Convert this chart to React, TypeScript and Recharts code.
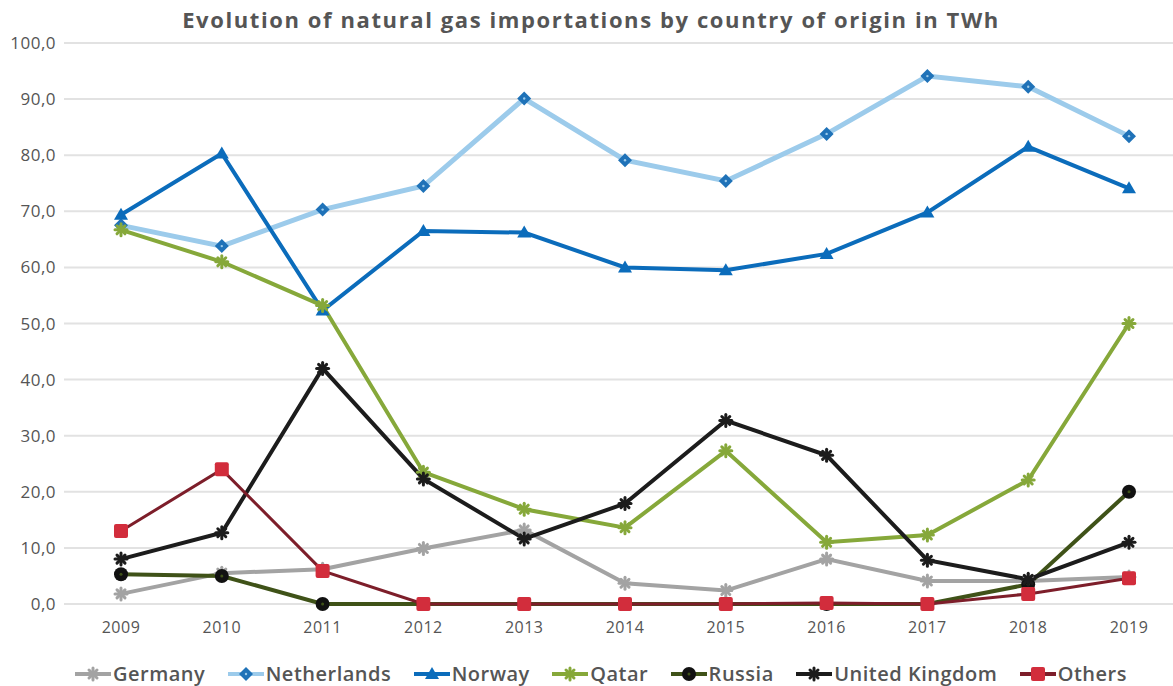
import React from 'react';
import { LineChart, Line, XAxis, YAxis, CartesianGrid } from 'recharts';

const years = ['2009', '2010', '2011', '2012', '2013', '2014', '2015', '2016', '2017', '2018', '2019'];
const germany = [1.8, 5.5, 6.2, 9.9, 13.2, 3.7, 2.4, 8.0, 4.1, 4.1, 4.8];
const netherlands = [67.5, 63.8, 70.3, 74.5, 90.1, 79.1, 75.4, 83.8, 94.1, 92.2, 83.4];
const norway = [69.4, 80.3, 52.3, 66.5, 66.2, 60.0, 59.5, 62.4, 69.8, 81.5, 74.1];
const qatar = [66.7, 61.0, 53.2, 23.5, 16.9, 13.6, 27.3, 11.0, 12.3, 22.1, 50.0];
const russia = [5.3, 5.0, 0, 0, 0, 0, 0, 0, 0, 3.5, 20.0];
const uk = [8.0, 12.7, 42.0, 22.3, 11.6, 17.9, 32.7, 26.5, 7.8, 4.4, 11.0];
const others = [13.0, 24.0, 5.9, 0, 0, 0, 0, 0.2, 0, 1.8, 4.6];
const yTicks = [0, 10, 20, 30, 40, 50, 60, 70, 80, 90, 100];

const data = years.map((y, i) => ({
  year: y,
  Germany: germany[i],
  Netherlands: netherlands[i],
  Norway: norway[i],
  Qatar: qatar[i],
  Russia: russia[i],
  UK: uk[i],
  Others: others[i],
}));

const FONT = '"Open Sans", "DejaVu Sans", sans-serif';

type Shape = 'diamond' | 'triangle' | 'star' | 'circle' | 'square';

function markerEl(shape: Shape, cx: number, cy: number, fill: string, key?: any) {
  switch (shape) {
    case 'diamond':
      return (
        <g key={key}>
          <path d={`M${cx},${cy - 7}L${cx + 7},${cy}L${cx},${cy + 7}L${cx - 7},${cy}Z`} fill={fill} />
          <circle cx={cx} cy={cy} r={1.2} fill="#9ccbeb" />
        </g>
      );
    case 'triangle':
      return <path key={key} d={`M${cx},${cy - 7}L${cx + 7},${cy + 5}L${cx - 7},${cy + 5}Z`} fill={fill} />;
    case 'star':
      return (
        <g key={key} stroke={fill} strokeWidth={3} strokeLinecap="round">
          <line x1={cx - 4} y1={cy - 4} x2={cx + 4} y2={cy + 4} />
          <line x1={cx - 4} y1={cy + 4} x2={cx + 4} y2={cy - 4} />
          <line x1={cx} y1={cy - 6} x2={cx} y2={cy + 6} />
          <line x1={cx - 6} y1={cy} x2={cx + 6} y2={cy} />
        </g>
      );
    case 'circle':
      return (
        <g key={key}>
          <circle cx={cx} cy={cy} r={7} fill={fill} />
          <circle cx={cx} cy={cy} r={1.5} fill="#3f5218" />
        </g>
      );
    case 'square':
      return <rect key={key} x={cx - 7} y={cy - 7} width={14} height={14} rx={2} fill={fill} />;
  }
}

const makeDot = (shape: Shape, fill: string) => (props: any) => {
  const { cx, cy, index } = props;
  if (cx == null || cy == null) return <g key={`e${index}`} />;
  return markerEl(shape, cx, cy, fill, `d${index}`);
};

const seriesList = [
  { key: 'Germany', label: 'Germany', line: '#a3a3a3', marker: '#a3a3a3', shape: 'star' as Shape, width: 4 },
  { key: 'Netherlands', label: 'Netherlands', line: '#9ccbeb', marker: '#1f72b8', shape: 'diamond' as Shape, width: 5 },
  { key: 'Norway', label: 'Norway', line: '#0b6cbb', marker: '#0b6cbb', shape: 'triangle' as Shape, width: 4 },
  { key: 'Qatar', label: 'Qatar', line: '#86a83a', marker: '#86a83a', shape: 'star' as Shape, width: 4 },
  { key: 'Russia', label: 'Russia', line: '#3f5218', marker: '#111111', shape: 'circle' as Shape, width: 4 },
  { key: 'UK', label: 'United Kingdom', line: '#1c1c1c', marker: '#1c1c1c', shape: 'star' as Shape, width: 4 },
  { key: 'Others', label: 'Others', line: '#7d1e2a', marker: '#d22d3c', shape: 'square' as Shape, width: 3 },
];

export default function App() {
  return (
    <div style={{ position: 'absolute', left: 0, top: 0, width: 1173, height: 686, background: '#fff', overflow: 'hidden' }}>
      <div style={{ position: 'absolute', left: 171, top: 4, width: 840, textAlign: 'center', fontFamily: FONT, fontWeight: 'bold', fontSize: 22, letterSpacing: 1.6, color: '#555', whiteSpace: 'nowrap' }}>
        Evolution of natural gas importations by country of origin in TWh
      </div>
      <LineChart width={1173} height={686} data={data} margin={{ top: 43, right: 0, bottom: 0, left: 0 }}>
        <CartesianGrid vertical={false} stroke="#e2e2e2" strokeWidth={2} />
        <XAxis
          dataKey="year"
          axisLine={false}
          tickLine={false}
          padding={{ left: 57, right: 44 }}
          tick={{ fontFamily: FONT, fontSize: 16, fill: '#555', letterSpacing: 0.5 }}
          tickMargin={12}
          height={82}
        />
        <YAxis
          domain={[0, 100]}
          ticks={yTicks}
          axisLine={false}
          tickLine={false}
          width={64}
          interval={0}
          tick={{ fontFamily: FONT, fontSize: 17, fill: '#555', letterSpacing: 0.5 }}
          tickFormatter={(v: number) => v.toFixed(1).replace('.', ',')}
        />
        {seriesList.map((s) => (
          <Line
            key={s.key}
            type="linear"
            dataKey={s.key}
            name={s.label}
            stroke={s.line}
            strokeWidth={s.width}
            dot={makeDot(s.shape, s.marker)}
            activeDot={false}
            isAnimationActive={false}
          />
        ))}
      </LineChart>
      <div style={{ position: 'absolute', left: 75, top: 660, width: 1052, display: 'flex', justifyContent: 'space-between', fontFamily: FONT, fontSize: 20, letterSpacing: 0.5, color: '#555', fontWeight: 600 }}>
        {seriesList.map((s) => (
          <div key={s.key} style={{ display: 'flex', alignItems: 'center' }}>
            <svg width={36} height={16} style={{ marginRight: 2 }}>
              <line x1={0} y1={8} x2={36} y2={8} stroke={s.line} strokeWidth={4} />
              {markerEl(s.shape, 18, 8, s.marker)}
            </svg>
            <span>{s.label}</span>
          </div>
        ))}
      </div>
    </div>
  );
}
